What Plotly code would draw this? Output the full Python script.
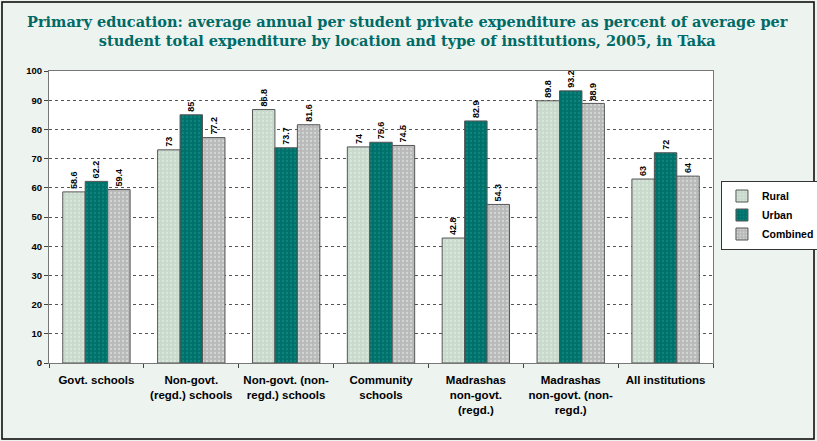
import plotly.graph_objects as go

categories = ["Govt. schools", "Non-govt.<br>(regd.) schools", "Non-govt. (non-<br>regd.) schools",
              "Community<br>schools", "Madrashas<br>non-govt.<br>(regd.)",
              "Madrashas<br>non-govt. (non-<br>regd.)", "All institutions"]
rural = [58.6, 73, 86.8, 74, 42.8, 89.8, 63]
urban = [62.2, 85, 73.7, 75.6, 82.9, 93.2, 72]
combined = [59.4, 77.2, 81.6, 74.5, 54.3, 88.9, 64]
rural_labels = ["58.6", "73", "86.8", "74", "42.8", "89.8", "63"]
urban_labels = ["62.2", "85", "73.7", "75.6", "82.9", "93.2", "72"]
combined_labels = ["59.4", "77.2", "81.6", "74.5", "54.3", "88.9", "64"]
title_text = ("<b>Primary education: average annual per student private expenditure as percent of average per<br>"
              "student total expenditure by location and type of institutions, 2005, in Taka</b>")

series = [("Rural", rural, rural_labels, "#c9d9cc"),
          ("Urban", urban, urban_labels, "#00706b"),
          ("Combined", combined, combined_labels, "#b9b9b9")]

fig = go.Figure()
for name, vals, labs, col in series:
    fig.add_trace(go.Bar(
        name=name, x=categories, y=vals, text=labs,
        textposition="outside", textangle=-90, cliponaxis=False,
        constraintext="none",
        textfont=dict(family="Liberation Sans", size=9, color="black", weight="bold"),
        marker=dict(color=col, line=dict(color="#555555", width=1),
                    pattern=dict(shape=".", size=4, solidity=0.25,
                                 fgcolor="#e8f5ec" if name != "Urban" else "#1a9a90")),
    ))

fig.update_layout(
    width=817, height=441,
    margin=dict(l=49, r=104, t=71, b=78, autoexpand=False),
    paper_bgcolor="#edf3ef",
    plot_bgcolor="white",
    barmode="group", bargap=0.29, bargroupgap=0,
    uniformtext=dict(minsize=9, mode="show"),
    showlegend=True,
    legend=dict(x=1.012, y=0.625, xanchor="left", yanchor="top",
                bgcolor="white", bordercolor="#333333", borderwidth=1,
                font=dict(family="Liberation Sans", size=10.5, color="black", weight="bold"),
                traceorder="normal", itemwidth=30, tracegroupgap=4),
    font=dict(family="Liberation Sans", size=9, color="black"),
)
fig.add_annotation(text=title_text, xref="paper", yref="paper", x=(408 - 49) / 664,
                   y=(363 - 11) / 292, xanchor="center", yanchor="top", showarrow=False,
                   align="center",
                   font=dict(family="DejaVu Serif", size=14.5, color="#006a66"))
fig.update_yaxes(range=[0, 100], dtick=10, showgrid=True, gridcolor="#555555",
                 griddash="dot", gridwidth=1, showline=True, linecolor="#777777",
                 linewidth=1, mirror=True, ticks="outside", ticklen=4,
                 tickfont=dict(size=9.5, weight="bold"), zeroline=False)
fig.update_xaxes(showline=True, linecolor="#777777", linewidth=1, mirror=True,
                 ticks="outside", tickson="boundaries", ticklen=4, ticklabelstandoff=6,
                 tickfont=dict(size=11.5, weight="bold"), tickangle=0)
fig.add_shape(type="rect", xref="paper", yref="paper",
              x0=-47/664, x1=(817-49-3)/664, y0=-76/292, y1=(292+69)/292,
              line=dict(color="black", width=1.5), fillcolor="rgba(0,0,0,0)", layer="below")
fig.write_html("out.html", config={"displayModeBar": False},
               post_script="document.body.style.margin='0';document.body.style.overflow='hidden';")
